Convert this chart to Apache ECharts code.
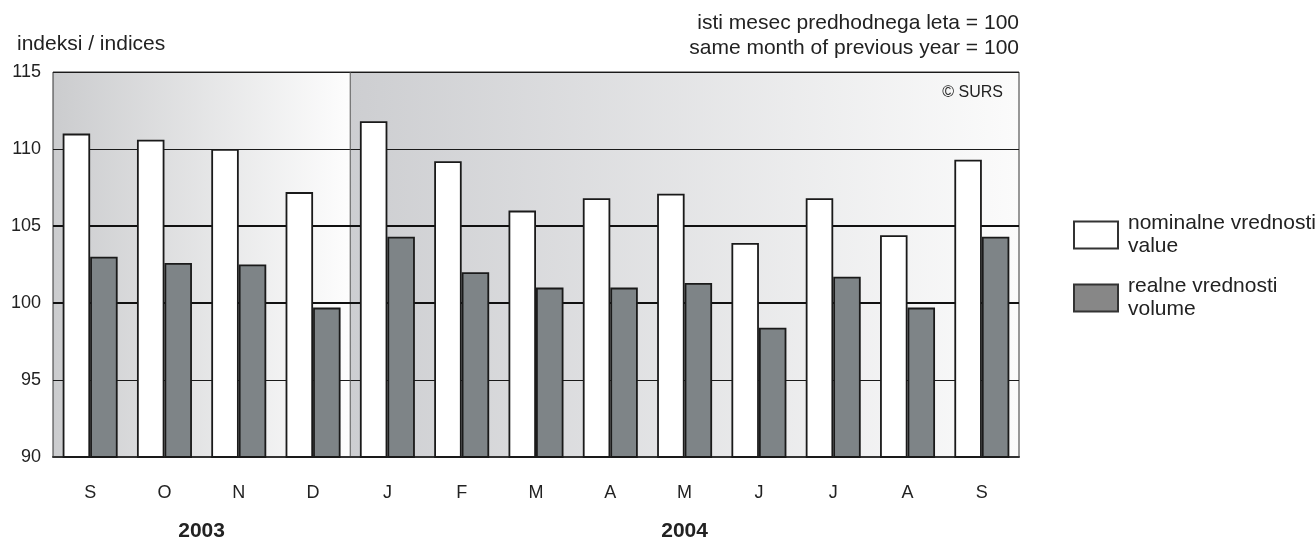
<!DOCTYPE html>
<html>
<head>
<meta charset="utf-8">
<script src="https://cdn.jsdelivr.net/npm/echarts@6/dist/echarts.min.js"></script>
<style>
  html, body { margin: 0; padding: 0; background: #fff; }
  #mainChart { width: 1316px; height: 541px; }
</style>
</head>
<body>
<div id="mainChart"></div>
<script>
// meseci / months
const months = ["S", "O", "N", "D", "J", "F", "M", "A", "M", "J", "J", "A", "S"];
const years = ["2003", "2004"];
const monthsIn2003 = 4;
// nominalne vrednosti / value
const nominal = [111.0, 110.6, 110.0, 107.2, 111.8, 109.2, 106.0, 106.8, 107.1, 103.9, 106.8, 104.4, 109.3];
// realne vrednosti / volume
const real = [103.0, 102.6, 102.5, 99.7, 104.3, 102.0, 101.0, 101.0, 101.3, 98.4, 101.7, 99.7, 104.3];
const yTicks = [90, 95, 100, 105, 110, 115];
const boldLines = [100, 105];

const FONT = "'Liberation Sans', Arial, sans-serif";
const myChart = echarts.init(document.getElementById("mainChart"));

let option = {
  animation: false,
  textStyle: { fontFamily: FONT },
  grid: {
    left: 53,
    right: 297,
    top: 72,
    bottom: 84,
    show: true,
    backgroundColor: "transparent",
    borderColor: "#333",
    borderWidth: 1,
  },
  legend: {
    orient: "vertical",
    left: 1068,
    top: 207,
    itemWidth: 44,
    itemHeight: 27,
    itemGap: 17,
    icon: "rect",
    selectedMode: false,
    textStyle: { fontSize: 21, lineHeight: 23, color: "#222", padding: [0, 0, 0, 5] },
    data: [
      { name: "nominalne vrednosti\nvalue", itemStyle: { color: "#fff", borderColor: "#333", borderWidth: 2 } },
      { name: "realne vrednosti\nvolume", itemStyle: { color: "#878787", borderColor: "#333", borderWidth: 2 } },
    ],
  },
  xAxis: {
    type: "category",
    data: months,
    axisLine: { show: true, lineStyle: { color: "#333", width: 2 } },
    axisTick: { show: false },
    axisLabel: { color: "#222", fontSize: 18, margin: 27 },
    splitLine: { show: false },
  },
  yAxis: {
    type: "value",
    min: yTicks[0],
    max: yTicks[yTicks.length - 1],
    interval: 5,
    axisLine: { show: false },
    axisTick: { show: false },
    axisLabel: { color: "#222", fontSize: 18, margin: 12 },
    splitLine: { show: true, showMinLine: true, showMaxLine: true, lineStyle: { color: "#1a1a1a", width: 1 } },
  },
  series: [
    {
      name: "nominalne vrednosti\nvalue",
      type: "bar",
      data: nominal,
      barWidth: "37%",
      barGap: "0%",
      z: 3,
      itemStyle: { color: "#fff", borderColor: "#1a1a1a", borderWidth: 1.8 },
    },
    {
      name: "realne vrednosti\nvolume",
      type: "bar",
      data: real,
      barWidth: "37%",
      barGap: "0%",
      z: 3,
      itemStyle: { color: "#7e8487", borderColor: "#1a1a1a", borderWidth: 1.8 },
    },
    {
      // debelejše mrežne črte pri 100 in 105
      name: "lines",
      type: "line",
      data: [],
      z: 1,
      markLine: {
        z: 1,
        silent: true,
        symbol: "none",
        label: { show: false },
        lineStyle: { color: "#111", width: 2, type: "solid" },
        data: boldLines.map((v) => ({ yAxis: v })),
      },
    },
  ],
};

myChart.setOption(option);

// ozadje: dva gradienta (2003, 2004), izračunano iz osi
const c0 = myChart.convertToPixel({ xAxisIndex: 0 }, 0);
const c1 = myChart.convertToPixel({ xAxisIndex: 0 }, 1);
const bw = c1 - c0;
const x0 = c0 - bw / 2;
const xDiv = x0 + bw * monthsIn2003;
const x1 = x0 + bw * months.length;
const yTop = myChart.convertToPixel({ yAxisIndex: 0 }, yTicks[yTicks.length - 1]);
const yBot = myChart.convertToPixel({ yAxisIndex: 0 }, yTicks[0]);

function grad(c1, c2) {
  return new echarts.graphic.LinearGradient(0, 0, 1, 0, [
    { offset: 0, color: c1 },
    { offset: 1, color: c2 },
  ]);
}

myChart.setOption({
  graphic: [
    { type: "rect", z: -10, silent: true, shape: { x: x0, y: yTop, width: xDiv - x0, height: yBot - yTop }, style: { fill: grad("#cbccce", "#fdfdfd") } },
    { type: "rect", z: -10, silent: true, shape: { x: xDiv, y: yTop, width: x1 - xDiv, height: yBot - yTop }, style: { fill: grad("#cdced1", "#fbfbfb") } },
    { type: "line", z: 0, silent: true, shape: { x1: xDiv, y1: yTop, x2: xDiv, y2: yBot }, style: { stroke: "#555", lineWidth: 1 } },
    { type: "text", silent: true, style: { x: 17, y: 44, text: "indeksi / indices", font: "21px " + FONT, fill: "#222", verticalAlign: "middle" } },
    { type: "text", silent: true, style: { x: x1, y: 23, text: "isti mesec predhodnega leta = 100", font: "21px " + FONT, fill: "#222", align: "right", verticalAlign: "middle" } },
    { type: "text", silent: true, style: { x: x1, y: 48, text: "same month of previous year = 100", font: "21px " + FONT, fill: "#222", align: "right", verticalAlign: "middle" } },
    { type: "text", silent: true, style: { x: x1 - 16, y: 93, text: "© SURS", font: "16px " + FONT, fill: "#222", align: "right", verticalAlign: "middle" } },
    { type: "text", silent: true, style: { x: (x0 + xDiv) / 2, y: 531, text: years[0], font: "bold 21px " + FONT, fill: "#222", align: "center", verticalAlign: "middle" } },
    { type: "text", silent: true, style: { x: (xDiv + x1) / 2, y: 531, text: years[1], font: "bold 21px " + FONT, fill: "#222", align: "center", verticalAlign: "middle" } },
  ],
});

window.addEventListener("resize", function () {
  myChart.resize();
});
</script>
</body>
</html>
